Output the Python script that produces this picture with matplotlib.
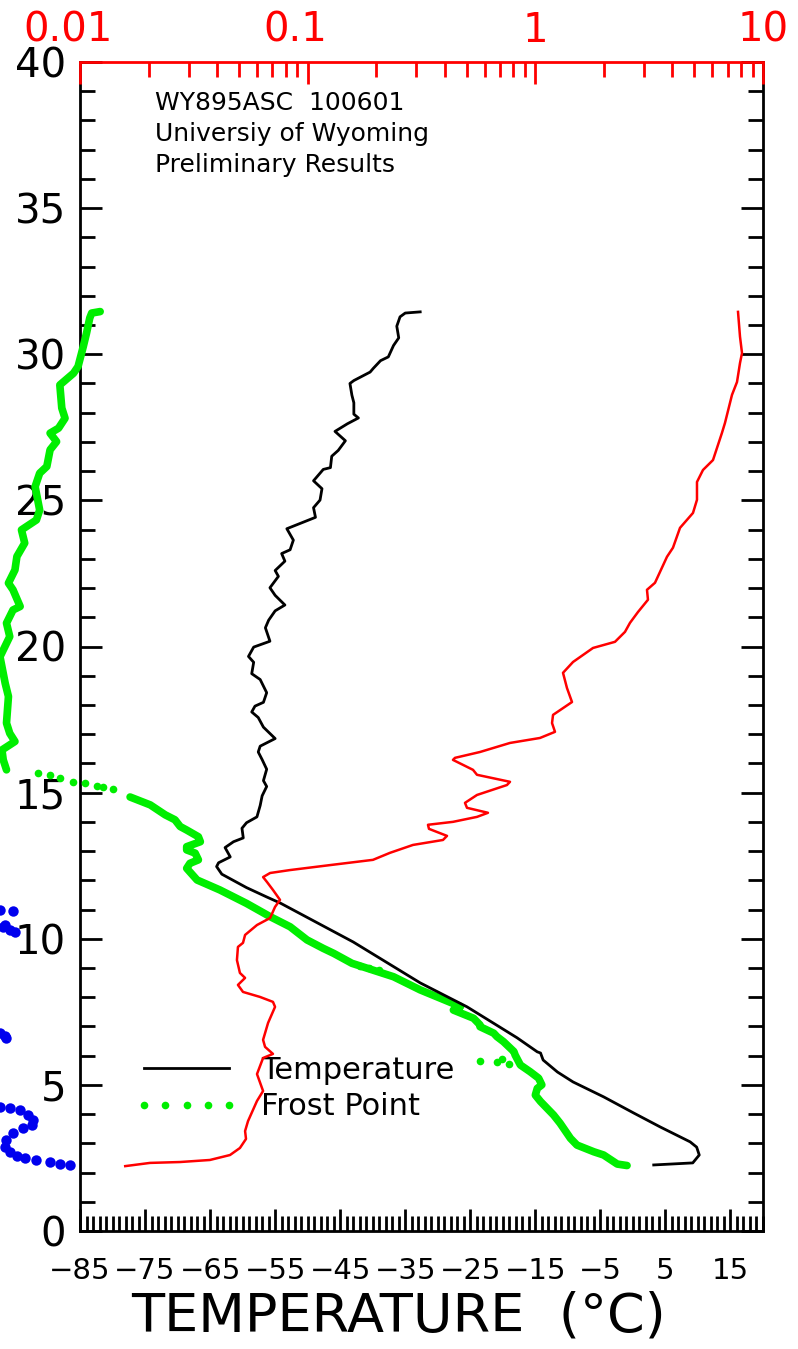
import numpy as np
import matplotlib
matplotlib.use("Agg")
import matplotlib.pyplot as plt
import matplotlib.transforms as mtransforms
from matplotlib.ticker import FixedLocator, FixedFormatter, MultipleLocator, LogLocator, NullFormatter
from matplotlib.lines import Line2D

# temperature profile (deg C) vs altitude (km)
temp_z = [2.26, 2.33, 2.60, 2.87, 3.05, 3.56, 4.04, 4.59, 5.10, 5.44, 5.85, 6.09, 6.13, 6.61,
          7.12, 7.67, 8.49, 9.89, 11.22, 11.43, 11.75, 12.21, 12.47, 12.60, 12.80, 13.12, 13.32,
          13.45, 13.78, 13.97, 14.17, 14.56, 14.89, 15.21, 15.41, 15.80, 16.13, 16.39, 16.59,
          16.85, 17.24, 17.57, 17.76, 17.96, 18.09, 18.42, 18.87, 19.07, 19.46, 19.66, 19.98,
          20.18, 20.64, 20.90, 21.22, 21.42, 21.75, 22.01, 22.40, 22.60, 22.92, 23.18, 23.31,
          23.64, 24.03, 24.42, 24.75, 25.01, 25.40, 25.67, 26.06, 26.12, 26.51, 26.71, 27.04,
          27.36, 27.62, 27.82, 27.95, 28.34, 28.60, 29.00, 29.10, 29.39, 29.52, 29.78, 29.91,
          30.30, 30.56, 30.96, 31.28, 31.41, 31.45]
temp_t = [3.2, 9.2, 10.2, 9.8, 8.8, 4.2, 0.1, -4.5, -9.2, -11.6, -13.8, -14.2, -14.7, -17.8,
          -21.5, -25.5, -32.7, -43.0, -54.2, -56.3, -59.4, -63.2, -64.0, -63.7, -61.9, -62.7, -61.4,
          -59.9, -60.1, -59.4, -57.8, -57.3, -57.0, -56.3, -56.8, -56.3, -57.0, -57.6, -57.3,
          -55.0, -56.8, -57.6, -58.6, -58.1, -56.8, -56.3, -57.3, -58.6, -58.3, -59.1, -58.3,
          -55.8, -56.5, -56.0, -55.0, -53.5, -55.0, -55.8, -54.5, -55.0, -53.5, -54.0, -52.7,
          -52.2, -53.2, -48.8, -49.1, -48.1, -47.8, -49.1, -47.6, -46.5, -46.3, -45.3, -44.2,
          -45.8, -43.9, -42.2, -42.9, -42.9, -43.2, -43.5, -42.9, -40.4, -39.9, -38.8, -37.6,
          -36.8, -36.0, -36.3, -35.8, -35.0, -32.7]

# frost point, continuous part below the tropopause jump
fp_low_z = [2.24, 2.29, 2.60, 2.71, 2.94, 3.17, 3.69, 3.97, 4.43, 4.65, 4.88, 5.00, 5.23, 5.45,
            5.68, 6.02, 6.14, 6.48, 6.65, 6.77, 6.99, 7.05, 7.28, 7.56, 7.68, 8.25, 8.70, 9.16,
            9.50, 9.67, 9.96, 10.41, 10.76, 11.21, 11.67, 12.01, 12.41, 12.58, 12.70, 12.93,
            13.04, 13.15, 13.32, 13.49, 13.72, 13.84, 14.07, 14.24, 14.58, 14.85]
fp_low_t = [-0.9, -2.4, -4.5, -6.0, -8.6, -9.6, -11.2, -12.2, -14.2, -15.0, -14.7, -14.0, -14.5, -15.8,
            -17.3, -18.1, -18.3, -19.9, -20.9, -21.4, -23.5, -23.5, -24.5, -27.6, -26.5, -32.7, -36.8, -43.2,
            -46.0, -47.6, -50.1, -52.7, -55.8, -59.4, -63.5, -67.0, -68.6, -68.1, -66.8, -67.3,
            -68.6, -68.6, -66.5, -66.8, -68.6, -69.6, -70.4, -71.9, -74.2, -77.3]
# isolated frost point samples
fp_dot_z = [5.72, 5.77, 5.82, 5.88, 8.93, 9.01, 9.08, 15.13, 15.20, 15.23, 15.33, 15.37, 15.50, 15.61, 15.67]
fp_dot_t = [-19.0, -20.9, -23.5, -20.1, -39.1, -40.6, -41.9, -79.9, -81.5, -82.4, -84.2, -86.1, -88.1, -89.6, -91.5]
# frost point, stratosphere
fp_high_z = [15.78, 16.12, 16.46, 16.75, 17.03, 17.38, 18.29, 18.74, 19.65, 20.11, 20.34, 20.80,
             21.25, 21.37, 21.94, 22.17, 22.62, 23.08, 23.54, 23.99, 24.33, 24.67, 25.47, 25.93,
             26.16, 26.73, 27.01, 27.30, 27.47, 27.81, 28.16, 28.95, 29.35, 29.58, 30.26, 30.72,
             31.24, 31.41, 31.46]
fp_high_t = [-96.3, -96.8, -97.0, -95.0, -95.8, -96.3, -96.0, -96.5, -97.3, -96.3, -95.8, -96.3,
             -95.3, -94.2, -95.3, -96.0, -95.0, -94.7, -93.5, -94.0, -91.7, -91.2, -91.9, -91.2,
             -90.1, -89.6, -88.6, -89.6, -88.3, -87.3, -87.8, -88.1, -86.0, -85.3, -84.5, -84.0,
             -83.5, -83.2, -81.9]

# off-scale blue samples (in temperature-axis units)
blue_z = [10.99, 10.95, 10.47, 10.41, 10.30, 10.24, 6.78, 6.67, 6.61, 4.25, 4.21, 4.14, 3.97,
          3.80, 3.63, 3.53, 3.35, 3.11, 2.87, 2.70, 2.57, 2.50, 2.43, 2.36, 2.29, 2.26]
blue_t = [-97.3, -95.3, -96.5, -96.8, -95.8, -95.0, -97.3, -96.5, -96.3, -97.3, -95.8, -94.2, -93.0,
          -92.2, -92.4, -93.7, -95.3, -96.3, -96.5, -95.8, -94.7, -93.5, -91.7, -89.6, -88.1, -86.5]

# red profile on the top log axis
red_z = [2.22, 2.33, 2.36, 2.43, 2.60, 2.84, 3.15, 3.42, 3.76, 4.45, 4.79, 5.37, 5.92, 6.06, 6.30,
         6.54, 7.12, 7.67, 7.84, 8.01, 8.18, 8.42, 8.66, 8.83, 9.27, 9.72, 9.86, 10.13, 10.47,
         10.71, 11.09, 11.33, 11.67, 11.94, 12.11, 12.25, 12.35, 12.52, 12.70, 12.94, 13.21,
         13.38, 13.52, 13.76, 13.90, 14.00, 14.17, 14.31, 14.48, 14.65, 14.92, 15.26, 15.37,
         15.61, 15.78, 16.12, 16.19, 16.39, 16.70, 16.87, 17.08, 17.38, 17.66, 18.10, 18.58,
         19.10, 19.47, 19.95, 20.16, 20.50, 20.81, 21.18, 21.60, 21.94, 22.18, 23.07, 23.38,
         24.06, 24.57, 25.02, 25.63, 26.04, 26.38, 27.31, 27.65, 28.61, 29.05, 29.70, 30.04,
         30.60, 31.45]
red_v = [0.0158, 0.0203, 0.0275, 0.0372, 0.0456, 0.0504, 0.0536, 0.0531, 0.0547, 0.0599, 0.0637,
         0.0599, 0.0637, 0.0704, 0.0650, 0.0637, 0.0670, 0.0719, 0.0704, 0.0617, 0.0520, 0.0494,
         0.0531, 0.0504, 0.0489, 0.0494, 0.0520, 0.0531, 0.0599, 0.0684, 0.0719, 0.0756, 0.0704,
         0.0663, 0.0637, 0.0684, 0.0836, 0.1253, 0.1936, 0.2299, 0.2901, 0.3930, 0.4093, 0.3411,
         0.3376, 0.4348, 0.5543, 0.6195, 0.5010, 0.4909, 0.5543, 0.7505, 0.7740, 0.5543, 0.5324,
         0.4348, 0.4437, 0.5713, 0.7740, 1.048, 1.220, 1.184, 1.196, 1.449, 1.377, 1.323, 1.464,
         1.792, 2.238, 2.476, 2.605, 2.824, 3.124, 3.093, 3.354, 3.787, 4.023, 4.320, 4.926,
         5.129, 5.129, 5.450, 6.031, 6.603, 6.808, 7.308, 7.688, 7.925, 8.087, 7.925, 7.767]

temp_ticks = [-85, -75, -65, -55, -45, -35, -25, -15, -5, 5, 15]
alt_ticks = [0, 5, 10, 15, 20, 25, 30, 35, 40]
top_ticks = [0.01, 0.1, 1, 10]
top_labels = ["0.01", "0.1", "1", "10"]

plt.rcParams['font.family'] = ['DejaVu Sans']
GREEN = "#00ee00"

fig = plt.figure(figsize=(7.98, 13.49), dpi=100)
ax = fig.add_axes([80 / 798, 118 / 1349, 683 / 798, 1169 / 1349])

ax.plot(temp_t, temp_z, color="black", lw=2.0, zorder=4)
ax.plot(fp_low_t, fp_low_z, color=GREEN, lw=5.5, solid_capstyle="round",
        solid_joinstyle="round", clip_on=False, zorder=3)
ax.plot(fp_high_t, fp_high_z, color=GREEN, lw=5.5, solid_capstyle="round",
        solid_joinstyle="round", clip_on=False, zorder=3)
ax.plot(fp_dot_t, fp_dot_z, "o", color=GREEN, ms=5.5, mew=0, clip_on=False, zorder=3)
ax.plot(blue_t, blue_z, "o", color="#0000ee", ms=7.5, mew=0, clip_on=False, zorder=3)

ax.set_xlim(-85, 20)
ax.set_ylim(0, 40)
ax.xaxis.set_major_locator(FixedLocator(temp_ticks))
ax.xaxis.set_minor_locator(MultipleLocator(1))
ax.yaxis.set_major_locator(FixedLocator(alt_ticks))
ax.yaxis.set_minor_locator(MultipleLocator(1))
ax.tick_params(which="both", direction="in", top=False, right=True, width=2, color="black")
ax.tick_params(which="major", length=16)
ax.tick_params(which="minor", length=11)
ax.tick_params(axis="y", labelsize=29, pad=10)
ax.tick_params(axis="x", labelsize=21, pad=19)
for s in ["left", "right", "bottom"]:
    ax.spines[s].set_linewidth(2)
ax.spines["top"].set_visible(False)
ax.set_xlabel("TEMPERATURE  (°C)", fontsize=39, labelpad=4)
ax.xaxis.label.set_x(0.466)

ax2 = ax.twiny()
ax2.plot(red_v, red_z, color="red", lw=1.8, zorder=4)
ax2.set_xscale("log")
ax2.set_xlim(0.01, 10)
ax2.xaxis.set_major_locator(FixedLocator(top_ticks))
ax2.xaxis.set_major_formatter(FixedFormatter(top_labels))
ax2.xaxis.set_minor_locator(LogLocator(base=10, subs=np.arange(2, 10)))
ax2.xaxis.set_minor_formatter(NullFormatter())
ax2.tick_params(which="both", direction="in", color="red", width=2, labelcolor="red")
ax2.tick_params(which="major", length=16, labelsize=29, pad=8)
ax2.tick_params(which="minor", length=11)
for s in ["left", "right", "bottom"]:
    ax2.spines[s].set_visible(False)
ax2.spines["top"].set_color("red")
ax2.spines["top"].set_linewidth(2)
# the two leftmost top labels sit a little left of their ticks
for lab in ax2.get_xticklabels()[:2]:
    lab.set_transform(lab.get_transform() + mtransforms.ScaledTranslation(-0.12, 0, fig.dpi_scale_trans))

ax.text(0.11, 0.975, "WY895ASC  100601\nUniversiy of Wyoming\nPreliminary Results",
        transform=ax.transAxes, fontsize=18, va="top", ha="left", linespacing=1.35)

handles = [Line2D([], [], color="black", lw=2),
           Line2D([], [], color=GREEN, marker="o", ls="none", ms=5.5, mew=0)]
ax.legend(handles, ["Temperature", "Frost Point"], loc="upper left",
          bbox_to_anchor=(0.08, 0.150), frameon=False, fontsize=22, borderpad=0,
          borderaxespad=0, handlelength=3.4, handletextpad=0.75, labelspacing=0.25,
          numpoints=5)

fig.savefig("out.png", dpi=100)
